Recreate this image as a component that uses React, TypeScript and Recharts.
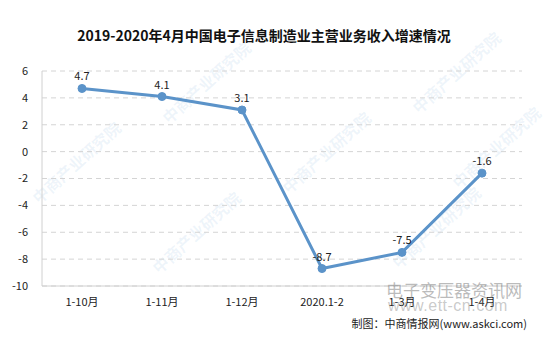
import { LineChart, Line, XAxis, YAxis, CartesianGrid, LabelList } from "recharts"

const periods = ["1-10月", "1-11月", "1-12月", "2020.1-2", "1-3月", "1-4月"]
const growth = [4.7, 4.1, 3.1, -8.7, -7.5, -1.6]
const yTicks = [-10, -8, -6, -4, -2, 0, 2, 4, 6]

const data = periods.map((p, i) => ({ period: p, value: growth[i] }))

// faint diagonal brand marks behind the plot
const marks = [
  [150, 70], [400, 60],
  [20, 150], [270, 140], [440, 135],
  [140, 220], [380, 215],
]

const LINE = "#5b93c9"
const FONT = "'Noto Sans CJK SC', 'Noto Sans', sans-serif"

const App = () => {
  return (
    <div style={{ position: "absolute", left: 0, top: 0, width: 550, height: 337, background: "#fff", overflow: "hidden", fontFamily: FONT }}>
      {marks.map(([x, y], i) => (
        <div
          key={i}
          style={{
            position: "absolute",
            left: x,
            top: y,
            fontSize: 16,
            fontWeight: 700,
            color: "rgba(120,170,215,0.13)",
            transform: "rotate(-42deg)",
            whiteSpace: "nowrap",
          }}
        >
          中商产业研究院
        </div>
      ))}
      <div style={{ position: "absolute", left: 0, top: 25, width: 528, textAlign: "center", fontSize: 14, fontWeight: 700, color: "#111" }}>
        2019-2020年4月中国电子信息制造业主营业务收入增速情况
      </div>
      <LineChart width={550} height={337} data={data} margin={{ top: 71, right: 28, bottom: 26, left: 0 }} style={{ position: "absolute", left: 0, top: 0 }}>
        <CartesianGrid vertical={false} stroke="#d4d4d4" strokeDasharray="5 4" />
        <XAxis
          dataKey="period"
          axisLine={{ stroke: "#d0d0d0" }}
          tickLine={false}
          tick={{ fill: "#222", fontSize: 11, fontFamily: FONT }}
          tickMargin={6}
          height={25}
          padding={{ left: 40, right: 40 }}
        />
        <YAxis
          domain={[-10, 6]}
          ticks={yTicks}
          axisLine={{ stroke: "#d0d0d0" }}
          tickLine={false}
          tick={{ fill: "#222", fontSize: 11, fontFamily: FONT }}
          tickMargin={8}
          width={42}
        />
        <Line
          type="linear"
          dataKey="value"
          stroke={LINE}
          strokeWidth={3}
          dot={{ r: 4, fill: LINE, stroke: LINE, strokeWidth: 1 }}
          isAnimationActive={false}
        >
          <LabelList dataKey="value" position="top" offset={8} style={{ fill: "#222", fontSize: 11, fontFamily: FONT }} />
        </Line>
      </LineChart>
      <div style={{ position: "absolute", left: 386, top: 277, fontSize: 17, color: "rgba(120,120,120,0.5)", letterSpacing: 0 }}>
        电子变压器资讯网
      </div>
      <div style={{ position: "absolute", left: 388, top: 297, fontSize: 16, color: "rgba(120,120,120,0.4)", fontFamily: "'Liberation Sans', sans-serif", letterSpacing: 0.5 }}>
        www.ett-cn.com
      </div>
      <div style={{ position: "absolute", right: 23, top: 315, fontSize: 11, color: "#222" }}>
        制图：中商情报网(www.askci.com)
      </div>
    </div>
  )
}

export default App
